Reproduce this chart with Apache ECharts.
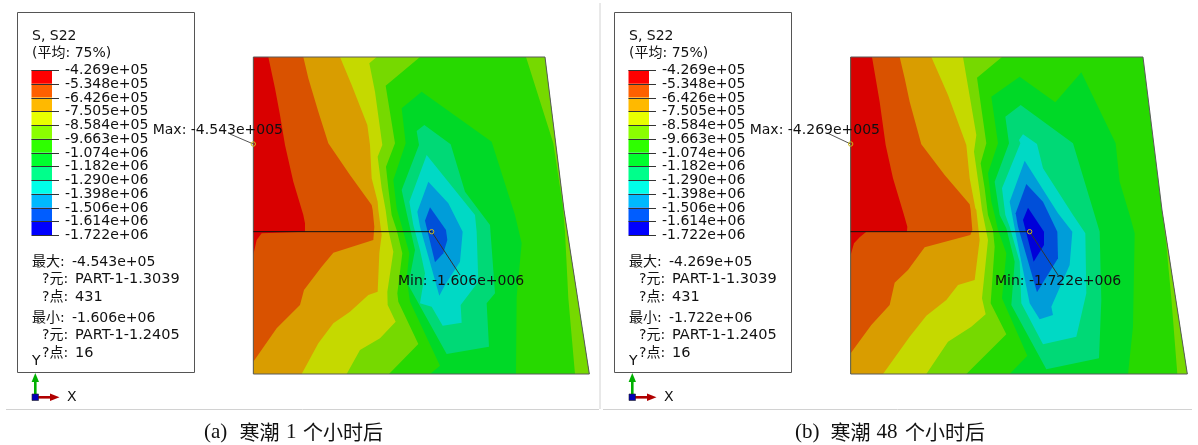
<!DOCTYPE html>
<html><head><meta charset="utf-8">
<style>html,body{margin:0;padding:0;background:#fff}#c{width:1198px;height:445px}</style>
<script src="https://cdn.jsdelivr.net/npm/echarts@6/dist/echarts.min.js"></script>
</head><body><div id="c"></div>
<script>
// Contour levels and colours
const levels = ['-4.269e+05','-5.348e+05','-6.426e+05','-7.505e+05','-8.584e+05','-9.663e+05','-1.074e+06','-1.182e+06','-1.290e+06','-1.398e+06','-1.506e+06','-1.614e+06','-1.722e+06'];
const legendColors = ['#ff0000','#ff6000','#ffb900','#e8ff00','#8bff00','#2eff00','#00ff2e','#00ff8b','#00ffe8','#00b9ff','#005dff','#0000ff'];
const bodyColors = ['#d90000','#d95200','#d99d00','#c5d900','#76d900','#27d900','#00d927','#00d976','#00d9c5','#009dd9','#004fd9','#0000d9'];

// Plate outline (mesh coordinates)
const plateA = [[40,36],[915,36],[972,495],[1048,987],[40,987]];
const plateB = [[38,36],[915,36],[972,495],[1048,987],[38,987]];

// Panel (a): contour band regions
const aSliver = [[858,36],[915,36],[972,495],[1048,987],[1005,987],[985,760],[975,560],[968,480],[940,295]];
const aYellowGreen = [[40,36],[540,36],[437,122],[465,295],[438,365],[445,430],[455,510],[470,555],[487,625],[472,745],[475,770],[535,897],[447,987],[40,987]];
const aYellow = [[40,36],[410,36],[388,55],[405,140],[427,300],[413,335],[425,430],[437,495],[445,555],[460,620],[442,740],[443,780],[467,830],[420,880],[360,915],[320,987],[40,987]];
const aAmber = [[40,36],[300,36],[335,120],[382,240],[390,300],[395,400],[413,470],[415,495],[425,570],[418,625],[413,740],[385,750],[330,800],[280,835],[235,895],[185,987],[40,987]];
const aOrange = [[40,36],[190,36],[205,100],[235,200],[265,295],[330,390],[395,480],[398,495],[403,545],[400,585],[280,623],[245,665],[192,735],[180,780],[110,850],[40,950]];
const aRed = [[40,36],[85,36],[105,130],[120,210],[135,300],[160,410],[190,510],[195,535],[195,560],[65,565],[50,585],[40,630]];
const aGreen2 = [[545,140],[755,290],[825,510],[845,595],[830,755],[828,987],[570,987],[600,962],[510,770],[500,700],[508,625],[490,560],[470,490],[460,405],[497,295],[485,190]];
const aMint = [[553,240],[632,298],[675,440],[750,540],[765,745],[740,775],[747,905],[620,927],[505,720],[525,615],[500,505],[485,435],[537,300],[530,258]];
const aCyan = [[560,330],[705,510],[710,560],[715,710],[662,780],[665,833],[608,842],[575,785],[540,775],[555,685],[540,615],[520,540],[508,470]];
const aLightBlue = [[565,410],[625,475],[668,560],[660,650],[615,720],[598,752],[540,545],[532,500]];
const aBlue = [[570,487],[618,555],[622,585],[610,625],[585,652],[555,527]];

// Panel (b): contour band regions
const bSliver = [[972,495],[1048,987],[1018,987],[1000,760],[985,600]];
const bYellowGreen = [[38,36],[492,36],[417,98],[445,295],[428,355],[440,430],[450,510],[465,555],[470,605],[458,775],[505,868],[385,987],[38,987]];
const bYellow = [[38,36],[375,36],[415,270],[408,320],[425,440],[432,495],[450,585],[432,760],[443,808],[400,845],[330,890],[265,987],[38,987]];
const bAmber = [[38,36],[280,36],[330,150],[385,300],[395,400],[412,490],[415,495],[425,585],[410,705],[360,720],[325,765],[265,812],[215,875],[135,987],[38,987]];
const bOrange = [[38,36],[185,36],[200,100],[215,170],[250,298],[320,390],[395,478],[398,495],[403,555],[397,570],[260,607],[210,675],[170,713],[155,780],[100,840],[38,925]];
const bRed = [[38,36],[102,36],[125,170],[143,300],[165,400],[198,510],[208,545],[207,560],[85,560],[65,577],[48,595],[38,630]];
const bGreen2 = [[545,95],[652,172],[730,82],[833,295],[845,410],[875,510],[890,565],[885,845],[870,987],[515,987],[568,932],[492,760],[505,625],[480,555],[470,510],[460,470],[450,385],[480,295],[460,155]];
const bMint = [[548,180],[705,295],[770,510],[785,560],[790,765],[783,940],[625,973],[520,780],[530,650],[505,550],[485,510],[470,410],[513,295],[502,215]];
const bCyan = [[555,268],[597,297],[615,370],[705,510],[742,565],[745,745],[715,875],[615,898],[550,775],[545,650],[515,545],[502,510],[492,430],[547,295],[543,285]];
const bLightBlue = [[560,347],[660,505],[703,560],[695,660],[640,785],[645,810],[605,823],[575,775],[555,675],[535,575],[515,470]];
const bBlue = [[565,417],[615,470],[658,560],[660,640],[597,742],[540,545],[533,505]];
const bNavy = [[570,488],[618,560],[618,600],[587,650],[555,525]];

const aRegions = [[aSliver,4],[aYellowGreen,4],[aYellow,3],[aAmber,2],[aOrange,1],[aRed,0],[aGreen2,6],[aMint,7],[aCyan,8],[aLightBlue,9],[aBlue,10]];
const bRegions = [[bSliver,4],[bYellowGreen,4],[bYellow,3],[bAmber,2],[bOrange,1],[bRed,0],[bGreen2,6],[bMint,7],[bCyan,8],[bLightBlue,9],[bBlue,10],[bNavy,11]];

// Probe lines and markers (mesh coordinates)
const sectionLine = [[40,560],[575,560]];
const maxLeader = [[40,297],[-30,267]];
const minLeader = [[575,560],[660,690]];
const bSectionLine = [[38,560],[575,560]];
const bMaxLeader = [[38,297],[-30,265]];
const bMinLeader = [[575,560],[660,690]];

// Text
const aInfo = ['-4.543e+05','PART-1-1.3039','431','-1.606e+06','PART-1-1.2405','16'];
const bInfo = ['-4.269e+05','PART-1-1.3039','431','-1.722e+06','PART-1-1.2405','16'];
const aProbe = ['Max: -4.543e+005','Min: -1.606e+006'];
const bProbe = ['Max: -4.269e+005','Min: -1.722e+006'];
const aCaption = ['(a)','寒潮','1','个小时后'];
const bCaption = ['(b)','寒潮','48','个小时后'];

const FONT = '14px "DejaVu Sans","Noto Sans CJK SC"';
const plateX = [253.33, 851.33];
const panelDX = [0, 597];

function regionSeries(regions, plate, lines, markers, gridIdx) {
  const poly = (api, pts) => pts.map(p => api.coord(p));
  return {
    type: 'custom', coordinateSystem: 'cartesian2d', xAxisIndex: gridIdx, yAxisIndex: gridIdx,
    clip: false, silent: true, animation: false,
    data: regions.map((r, i) => [i]),
    renderItem(params, api) {
      const i = params.dataIndex, children = [];
      if (i === 0) children.push({type:'polygon', shape:{points:poly(api, plate)}, style:{fill:bodyColors[5]}});
      children.push({type:'polygon', shape:{points:poly(api, regions[i][0])}, style:{fill:bodyColors[regions[i][1]]}});
      if (i === regions.length - 1) {
        children.push({type:'polygon', shape:{points:poly(api, plate)}, style:{fill:'none', stroke:'#5a5a5a', lineWidth:1}});
        lines.forEach(l => children.push({type:'polyline', shape:{points:poly(api, l.pts)}, style:{fill:'none', stroke:l.c, lineWidth:1}}));
        markers.forEach(m => { const c = api.coord(m);
          children.push({type:'circle', shape:{cx:c[0],cy:c[1],r:2.2}, style:{fill:'none', stroke:'#c8b820', lineWidth:1}}); });
      }
      return {type:'group', children};
    }
  };
}
function legendSeries(axisIdx) {
  return {
    type:'custom', coordinateSystem:'cartesian2d', xAxisIndex:axisIdx, yAxisIndex:axisIdx,
    clip:false, silent:true, animation:false,
    data: levels.map((c,i)=>[i]),
    renderItem(params, api){
      const i = params.dataIndex, a = api.coord([0,i]), b = api.coord([1,i+1]), c = api.coord([1,i]);
      const y = Math.round(c[1]) + 0.5, children = [];
      if (i < legendColors.length) children.push({type:'rect', shape:{x:a[0],y:a[1],width:b[0]-a[0],height:b[1]-a[1]}, style:{fill:legendColors[i]}});
      children.push({type:'line', shape:{x1:a[0],y1:y,x2:c[0]+7,y2:y}, style:{stroke:'#333',lineWidth:1}});
      children.push({type:'text', style:{x:c[0]+13,y:c[1]+0.5,text:levels[i],font:FONT,fill:'#111',textVerticalAlign:'middle'}});
      return {type:'group', children};
    }
  };
}
function t(x,y,text,font){ return {type:'text', silent:true, z:20, style:{x,y,text,font:font||FONT,fill:'#111',textVerticalAlign:'middle'}}; }
const LATIN = '21px "Liberation Serif"';
const CJK = '20px "Noto Sans CJK SC"';
function panelGraphics(dx, info, probe, cap, capX) {
  const part = '14.5px "DejaVu Sans"';
  return [
    {type:'rect', z:1, silent:true, shape:{x:17.5+dx,y:12.5,width:177,height:360}, style:{fill:'none',stroke:'#555',lineWidth:1}},
    t(32+dx,36,'S, S22'), t(32+dx,53,'(平均: 75%)'),
    t(32+dx,262,'最大:'), t(72+dx,262,info[0]),
    t(42+dx,279,'?元:'), t(75+dx,279,info[1],part),
    t(42+dx,297,'?点:'), t(75+dx,297,info[2],part),
    t(32+dx,318,'最小:'), t(72+dx,318,info[3]),
    t(42+dx,335,'?元:'), t(75+dx,335,info[4],part),
    t(42+dx,353,'?点:'), t(75+dx,353,info[5],part),
    t(32+dx,361,'Y'), t(67+dx,397,'X'),
    t(152.7+dx,130.5,probe[0]), t(398+dx,281.5,probe[1]),
    {type:'rect', z:3, silent:true, shape:{x:34+dx,y:381,width:2.6,height:14}, style:{fill:'#00b000'}},
    {type:'polygon', z:3, silent:true, shape:{points:[[35.3+dx,373],[39+dx,382],[31.6+dx,382]]}, style:{fill:'#00b000'}},
    {type:'rect', z:3, silent:true, shape:{x:37+dx,y:396,width:14,height:2.6}, style:{fill:'#b00000'}},
    {type:'polygon', z:3, silent:true, shape:{points:[[59.5+dx,397.3],[50+dx,393.6],[50+dx,401]]}, style:{fill:'#b00000'}},
    {type:'rect', z:4, silent:true, shape:{x:32+dx,y:394,width:6.5,height:6.5}, style:{fill:'#0000b8',stroke:'#222',lineWidth:0.6}},
    t(capX,432,cap[0],LATIN), t(capX+35.5,432,cap[1],CJK), t(capX+(cap[2].length>1?81.5:82),432,cap[2],LATIN), t(capX+(cap[2].length>1?110:99),432,cap[3],CJK)
  ];
}
const sep = [
  {type:'line', silent:true, shape:{x1:6,y1:409.5,x2:599,y2:409.5}, style:{stroke:'#d2d2d2',lineWidth:1}},
  {type:'line', silent:true, shape:{x1:603,y1:409.5,x2:1192,y2:409.5}, style:{stroke:'#d2d2d2',lineWidth:1}},
  {type:'line', silent:true, shape:{x1:600,y1:3,x2:600,y2:409}, style:{stroke:'#d2d2d2',lineWidth:1}}
];

const hiddenX = (min,max,g)=>({type:'value',gridIndex:g,min,max,show:false});
const hiddenY = (min,max,g)=>({type:'value',gridIndex:g,min,max,inverse:true,show:false});

const chart = echarts.init(document.getElementById('c'), null, {renderer:'canvas'});
chart.setOption({
  animation:false, backgroundColor:'#fff',
  grid:[
    {left:plateX[0],top:57,width:336,height:317},
    {left:plateX[1],top:57,width:336,height:317},
    {left:31.5,top:70,width:20.5,height:165},
    {left:31.5+panelDX[1],top:70,width:20.5,height:165}
  ],
  xAxis:[hiddenX(40,1048,0),hiddenX(40,1048,1),hiddenX(0,1,2),hiddenX(0,1,3)],
  yAxis:[hiddenY(36,987,0),hiddenY(36,987,1),hiddenY(0,12,2),hiddenY(0,12,3)],
  series:[
    regionSeries(aRegions,plateA,[{pts:sectionLine,c:'#111'},{pts:maxLeader,c:'#555'},{pts:minLeader,c:'#333'}],[maxLeader[0],minLeader[0]],0),
    regionSeries(bRegions,plateB,[{pts:bSectionLine,c:'#111'},{pts:bMaxLeader,c:'#555'},{pts:bMinLeader,c:'#333'}],[bMaxLeader[0],bMinLeader[0]],1),
    legendSeries(2),legendSeries(3)
  ],
  graphic:{elements:[...sep,...panelGraphics(0,aInfo,aProbe,aCaption,204),...panelGraphics(597,bInfo,bProbe,bCaption,795)]}
});
</script></body></html>
